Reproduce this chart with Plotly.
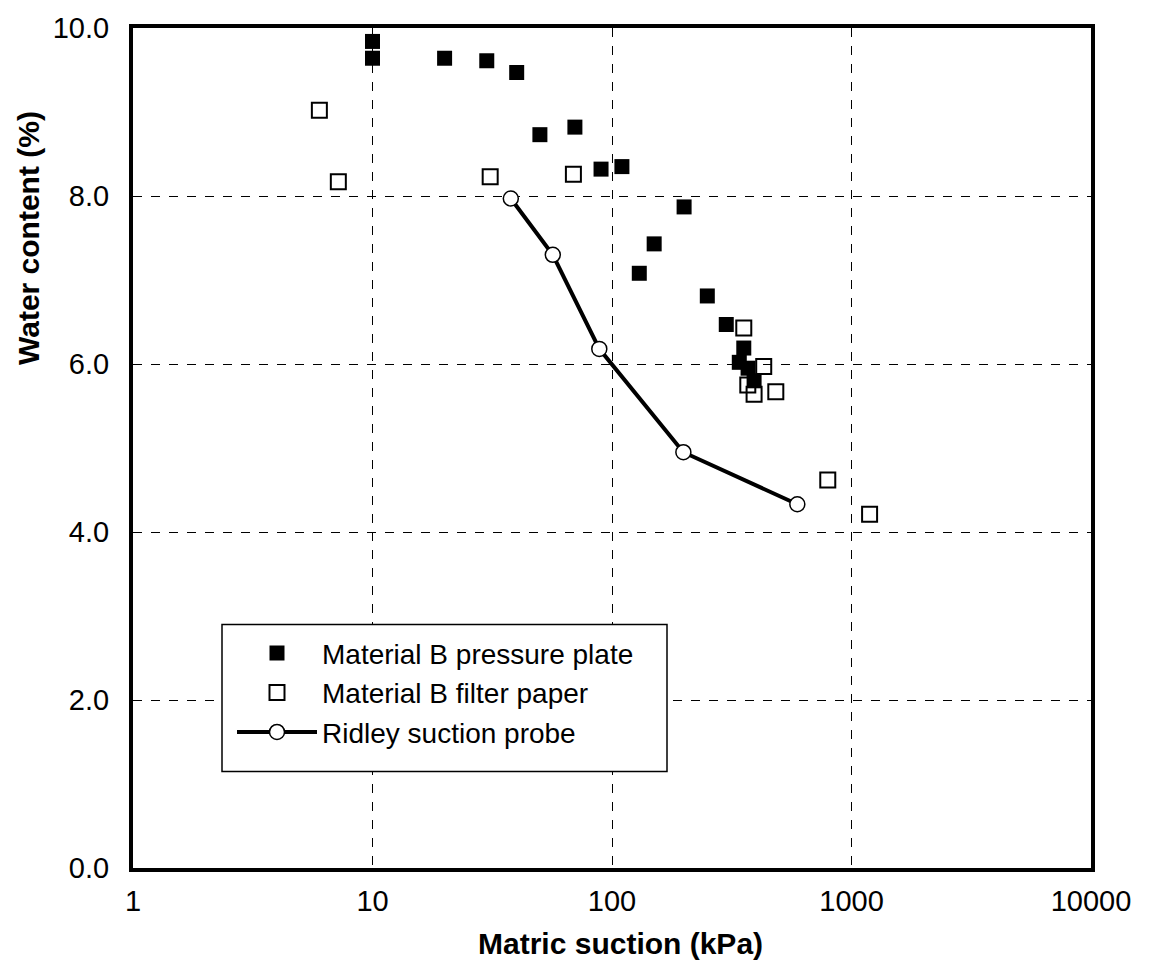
import plotly.graph_objects as go

# Material B pressure plate (filled squares)
pp_suction = [10, 10, 20, 30, 40, 50, 70, 90, 110, 200, 150, 130, 250, 300, 355, 340, 370, 392]
pp_water = [9.84, 9.64, 9.64, 9.61, 9.47, 8.73, 8.82, 8.32, 8.35, 7.87, 7.43, 7.08, 6.81, 6.47, 6.19, 6.02, 5.95, 5.80]

# Material B filter paper (open squares)
fp_suction = [6, 7.2, 31, 69, 355, 430, 369, 392, 483, 796, 1190]
fp_water = [9.02, 8.17, 8.23, 8.26, 6.43, 5.97, 5.75, 5.64, 5.67, 4.62, 4.21]

# Ridley suction probe (line + open circles)
rp_suction = [37.8, 56.6, 88.5, 198.6, 594]
rp_water = [7.97, 7.30, 6.18, 4.95, 4.33]

x_tickvals = [1, 10, 100, 1000, 10000]
x_ticktext = ["1", "10", "100", "1000", "10000"]
y_tickvals = [0, 2, 4, 6, 8, 10]
y_ticktext = ["0.0", "2.0", "4.0", "6.0", "8.0", "10.0"]

font = "Liberation Sans, Arial, sans-serif"

# plot-area geometry (pixels) used to convert layout positions to paper coords
L, R, T, B = 133, 1091, 16, 868
W, H = R - L, B - T


def px(xp):
    return (xp - L) / W


def py(yp):
    return (B - yp) / H


fig = go.Figure()
fig.add_trace(go.Scatter(
    x=pp_suction, y=pp_water, mode="markers", name="Material B pressure plate",
    marker=dict(symbol="square", size=15, color="black", line=dict(width=0)),
))
fig.add_trace(go.Scatter(
    x=fp_suction, y=fp_water, mode="markers", name="Material B filter paper",
    marker=dict(symbol="square-open", size=15, color="black", line=dict(width=2)),
))
fig.add_trace(go.Scatter(
    x=rp_suction, y=rp_water, mode="lines+markers", name="Ridley suction probe",
    line=dict(color="black", width=4),
    marker=dict(symbol="circle", size=15, color="white", line=dict(color="black", width=1.5)),
))

fig.update_layout(
    width=1157, height=969,
    margin=dict(l=L, r=1157 - R, t=T, b=969 - B),
    paper_bgcolor="white", plot_bgcolor="white",
    font=dict(family=font, size=29, color="black"),
    showlegend=True,
    legend=dict(
        x=px(232), y=py(625), xanchor="left", yanchor="top",
        bgcolor="rgba(0,0,0,0)", borderwidth=0,
        font=dict(family=font, size=28, color="black"),
        itemwidth=80, tracegroupgap=0,
    ),
    shapes=[dict(
        type="rect", xref="paper", yref="paper",
        x0=px(222), x1=px(667), y0=py(770), y1=py(621),
        fillcolor="white", line=dict(color="black", width=1.5), layer="above",
    )],
    annotations=[
        dict(text="<b>Matric suction (kPa)</b>", xref="paper", yref="paper",
             x=px(620), y=py(945), xanchor="center", yanchor="middle", showarrow=False,
             font=dict(family=font, size=30, color="black")),
        dict(text="<b>Water content (%)</b>", xref="paper", yref="paper",
             x=px(28), y=py(229), xanchor="center", yanchor="middle", showarrow=False,
             textangle=-90, font=dict(family=font, size=30, color="black")),
    ],
)
fig.update_xaxes(
    type="log", range=[0, 4],
    tickvals=x_tickvals, ticktext=x_ticktext,
    showgrid=True, gridcolor="black", gridwidth=1, griddash="dash",
    showline=True, linecolor="black", linewidth=4, mirror=True,
    ticks="", ticklabelstandoff=4,
    zeroline=False,
    tickfont=dict(family=font, size=29, color="black"),
)
fig.update_yaxes(
    range=[0, 10],
    tickvals=y_tickvals, ticktext=y_ticktext,
    showgrid=True, gridcolor="black", gridwidth=1, griddash="dash",
    showline=True, linecolor="black", linewidth=4, mirror=True,
    ticks="", ticklabelstandoff=14,
    zeroline=False,
    tickfont=dict(family=font, size=29, color="black"),
)

fig.write_html("out.html")
